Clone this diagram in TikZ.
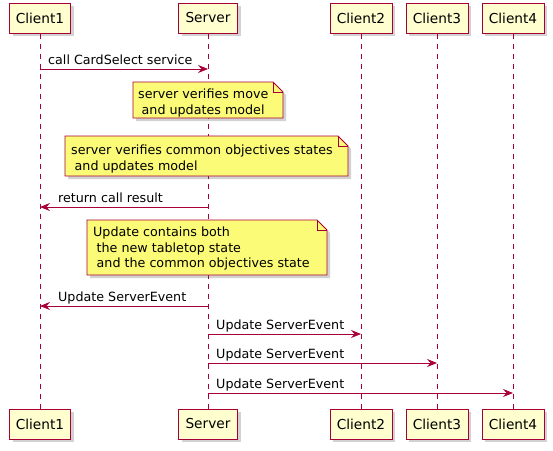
\documentclass[tikz,border=0pt]{standalone}
\usepackage{fontspec}
\setmainfont{DejaVu Sans}
\usetikzlibrary{arrows.meta,shadows}
\definecolor{pborder}{HTML}{A80036}
\definecolor{pfill}{HTML}{FEFECE}
\definecolor{nfill}{HTML}{FBFB77}
\tikzset{
  shad/.style={drop shadow={shadow xshift=3pt,shadow yshift=-3pt,opacity=0.25,fill=black!70}},
  part/.style={draw=pborder,fill=pfill,line width=1pt,minimum height=30pt,minimum width=62pt,inner sep=0pt,font=\fontsize{13.7}{15}\selectfont,shad},
  life/.style={draw=pborder,line width=0.8pt,dash pattern=on 5pt off 5pt},
  msg/.style={draw=pborder,line width=0.8pt,-{Stealth[length=10pt,width=8pt,inset=3.5pt]}},
  lbl/.style={inner sep=0pt,font=\fontsize{12.7}{15}\selectfont,anchor=base west},
  notebox/.style={draw=pborder,fill=nfill,line width=0.8pt,shad},
  notefold/.style={draw=pborder,line width=0.8pt},
  notetext/.style={inner sep=0pt,font=\fontsize{12.7}{15.3}\selectfont,align=left,anchor=north west},
}
\newcommand\mynote[5]{% x1 y1 x2 y2 name
  \coordinate (#5a) at (#1,#2);
  \coordinate (#5b) at (#3,#4);
  \path[notebox] (#1,#4) -- (#1,#2) -- (#3-10,#2) -- (#3,#2+10) -- (#3,#4) -- cycle;
  \draw[notefold] (#3-10,#2) -- (#3-10,#2+10) -- (#3,#2+10);
}
\begin{document}
\begin{tikzpicture}[x=1pt,y=-1pt]
\useasboundingbox (0,0) rectangle (553,450);
% participants
\node[part,minimum width=61pt] (c1t) at (40,18) {Client1};
\node[part,minimum width=59pt] (svt) at (208,18) {Server};
\node[part] (c2t) at (361,18) {Client2};
\node[part] (c3t) at (437,18) {Client3};
\node[part] (c4t) at (513,18) {Client4};
\node[part,minimum width=61pt] (c1b) at (40,424) {Client1};
\node[part,minimum width=59pt] (svb) at (208,424) {Server};
\node[part] (c2b) at (361,424) {Client2};
\node[part] (c3b) at (437,424) {Client3};
\node[part] (c4b) at (513,424) {Client4};
% lifelines
\draw[life] (c1t) -- (c1b);
\draw[life] (svt) -- (svb);
\draw[life] (c2t) -- (c2b);
\draw[life] (c3t) -- (c3b);
\draw[life] (c4t) -- (c4b);
% messages
\coordinate (m1a) at (c1t |- 0,69); \coordinate (m1b) at (svt |- 0,69);
\draw[msg] (m1a) -- (m1b);
\node[lbl] (l1) at (48,64) {call CardSelect service};

\mynote{133}{82}{283}{118}{n1}
\node[notetext] (t1) at (138,89) {server verifies move\\\hspace*{3.5pt}and updates model};

\mynote{65}{136}{348}{176}{n2}
\node[notetext] (t2) at (71,145) {server verifies common objectives states\\\hspace*{3.5pt}and updates model};

\coordinate (m2a) at (svt |- 0,207); \coordinate (m2b) at (c1t |- 0,207);
\draw[msg] (m2a) -- (m2b);
\node[lbl] (l2) at (58,202) {return call result};

\mynote{87}{220}{327}{275}{n3}
\node[notetext] (t3) at (93,227) {Update contains both\\\hspace*{3.5pt}the new tabletop state\\\hspace*{3.5pt}and the common objectives state};

\coordinate (m3a) at (svt |- 0,306); \coordinate (m3b) at (c1t |- 0,306);
\draw[msg] (m3a) -- (m3b);
\node[lbl] (l3) at (58,301) {Update ServerEvent};

\coordinate (m4a) at (svt |- 0,334); \coordinate (m4b) at (c2t |- 0,334);
\draw[msg] (m4a) -- (m4b);
\node[lbl] (l4) at (216,329) {Update ServerEvent};

\coordinate (m5a) at (svt |- 0,363); \coordinate (m5b) at (c3t |- 0,363);
\draw[msg] (m5a) -- (m5b);
\node[lbl] (l5) at (216,358) {Update ServerEvent};

\coordinate (m6a) at (svt |- 0,393); \coordinate (m6b) at (c4t |- 0,393);
\draw[msg] (m6a) -- (m6b);
\node[lbl] (l6) at (216,388) {Update ServerEvent};
\end{tikzpicture}
\end{document}
